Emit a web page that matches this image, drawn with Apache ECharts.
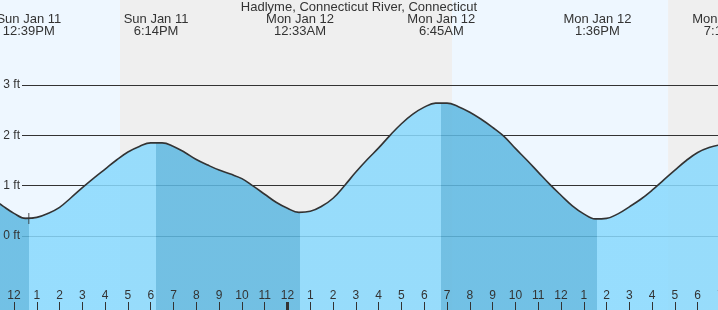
<!DOCTYPE html>
<html><head><meta charset="utf-8">
<script src="https://cdn.jsdelivr.net/npm/echarts@6/dist/echarts.min.js"></script>
<style>html,body{margin:0;padding:0;background:#fff}#c{width:718px;height:310px}</style>
</head><body><div id="c"></div>
<script>
// time axis: hours since Sun Jan 11, 12:00 PM (half-hourly readings)
const hours = [-1, -0.5, 0, 0.5, 1, 1.5, 2, 2.5, 3, 3.5, 4, 4.5, 5, 5.5, 6, 6.5, 7, 7.5, 8, 8.5, 9, 9.5, 10, 10.5, 11, 11.5,
  12, 12.5, 13, 13.5, 14, 14.5, 15, 15.5, 16, 16.5, 17, 17.5, 18, 18.5, 19, 19.5, 20, 20.5, 21, 21.5, 22, 22.5, 23, 23.5,
  24, 24.5, 25, 25.5, 26, 26.5, 27, 27.5, 28, 28.5, 29, 29.5, 30, 30.5, 31, 31.5, 32];
const heights = [0.76, 0.60, 0.45, 0.35, 0.37, 0.45, 0.57, 0.76, 0.96, 1.15, 1.33, 1.51, 1.67, 1.78, 1.85, 1.85, 1.78, 1.66, 1.52, 1.41, 1.31, 1.23, 1.14, 0.99, 0.83, 0.67,
  0.55, 0.47, 0.49, 0.59, 0.75, 1.00, 1.27, 1.52, 1.75, 2.00, 2.23, 2.42, 2.56, 2.64, 2.64, 2.57, 2.46, 2.32, 2.16, 1.98, 1.74, 1.51, 1.27, 1.03,
  0.81, 0.60, 0.44, 0.34, 0.35, 0.44, 0.58, 0.73, 0.91, 1.11, 1.31, 1.50, 1.66, 1.76, 1.81, 1.82, 1.78];

const eventHours = [0.65, 6.233, 12.55, 18.75, 25.6, 31.25];
const eventDates = ['Sun Jan 11', 'Sun Jan 11', 'Mon Jan 12', 'Mon Jan 12', 'Mon Jan 12', 'Mon Jan 12'];
const eventTimes = ['12:39PM', '6:14PM', '12:33AM', '6:45AM', '1:36PM', '7:15PM'];
const eventKinds = ['low', 'high', 'low', 'high', 'low', 'high'];

const dayBands   = [[-1, 4.65], [19.22, 28.70]];
const nightBands = [[4.65, 19.22], [28.70, 32]];
const midnightHours = [12];
const ftTicks = [0, 1, 2, 3];
const nowHour = 0.65, nowHeight = 0.35;
const title = 'Hadlyme, Connecticut River, Connecticut';

const FONT = 'Liberation Sans';
const TXT = '#333';
const DAY = '#eef7ff', NIGHT = '#efefef';
const RISE = '#89d9fd', FALL = '#5eb8e1';

const pieces = [{ lt: eventHours[0], color: eventKinds[0] === 'low' ? FALL : RISE }];
for (let i = 0; i < eventHours.length; i++) {
  const p = { gte: eventHours[i], color: eventKinds[i] === 'high' ? FALL : RISE };
  if (i + 1 < eventHours.length) p.lt = eventHours[i + 1];
  pieces.push(p);
}

const bandData = [];
dayBands.forEach(b => bandData.push([{ xAxis: b[0], itemStyle: { color: DAY } }, { xAxis: b[1] }]));
nightBands.forEach(b => bandData.push([{ xAxis: b[0], itemStyle: { color: NIGHT } }, { xAxis: b[1] }]));

const tideData = hours.map((h, i) => [h, heights[i]]);

const xMin = -1, xMax = 32;
const pxPerHour = 22.79, x0 = 14; // pixel of hour 0
const ftTop = 85, ftZero = 236, H = 310;
const pxPerFt = (ftZero - ftTop) / 3;
const SMOOTH = 0.4;

const chart = echarts.init(document.getElementById('c'), null, { renderer: 'canvas' });
chart.setOption({
  animation: false,
  backgroundColor: '#fff',
  title: {
    text: title, left: 'center', top: 1, padding: 0, z: 20,
    textStyle: { fontFamily: FONT, fontSize: 13, fontWeight: 'normal', color: TXT, lineHeight: 13 }
  },
  grid: [
    { left: x0 + xMin * pxPerHour, right: 718 - (x0 + xMax * pxPerHour), top: 0, bottom: 0, containLabel: false, outerBoundsMode: 'none' },
    { left: 22, right: 0, top: ftTop, bottom: H - ftZero, containLabel: false, outerBoundsMode: 'none' }
  ],
  visualMap: { type: 'piecewise', show: false, dimension: 0, seriesIndex: 1, pieces: pieces },
  xAxis: [
    { gridIndex: 0, type: 'value', min: xMin, max: xMax, interval: 1, position: 'bottom', z: 10,
      axisLine: { show: false, onZero: false }, splitLine: { show: false },
      axisTick: { show: true, inside: true, length: 8, lineStyle: { color: TXT, width: 1 } },
      axisLabel: { inside: true, margin: 8, fontFamily: FONT, fontSize: 12, color: TXT,
        formatter: v => String(((12 + Math.round(v)) % 12) || 12) } },
    { gridIndex: 0, type: 'value', min: xMin, max: xMax, position: 'top', z: 10,
      axisLine: { show: false, onZero: false }, splitLine: { show: false }, axisTick: { show: false },
      axisLabel: { inside: true, margin: 13, customValues: eventHours, fontFamily: FONT, fontSize: 13, lineHeight: 12, color: TXT,
        formatter: v => {
          let k = 0; eventHours.forEach((e, i) => { if (Math.abs(e - v) < Math.abs(eventHours[k] - v)) k = i; });
          return eventDates[k] + '\n' + eventTimes[k];
        } } },
    { gridIndex: 0, type: 'value', min: xMin, max: xMax, position: 'bottom', z: 10,
      axisLine: { show: false, onZero: false }, splitLine: { show: false }, axisLabel: { show: false },
      axisTick: { show: true, inside: true, length: 8, customValues: midnightHours, lineStyle: { color: TXT, width: 3 } } },
    { gridIndex: 1, type: 'value', min: 0, max: 1, show: false, axisLine: { onZero: false } }
  ],
  yAxis: [
    { gridIndex: 0, type: 'value', min: -(H - ftZero) / pxPerFt, max: ftZero / pxPerFt, show: false, axisLine: { onZero: false } },
    { gridIndex: 1, type: 'value', min: 0, max: 3, interval: 1, z: 1,
      axisLine: { show: false, onZero: false }, axisTick: { show: false }, axisLabel: { show: false },
      splitLine: { show: true, lineStyle: { color: '#333', width: 1 } } },
    { gridIndex: 1, type: 'value', min: 0, max: 3, interval: 1, position: 'left', z: 10,
      axisLine: { show: false, onZero: false }, axisTick: { show: false }, splitLine: { show: false },
      axisLabel: { margin: 2, fontFamily: FONT, fontSize: 12, color: TXT, formatter: v => ftTicks.indexOf(v) >= 0 ? v + ' ft' : '' } }
  ],
  series: [
    { type: 'line', xAxisIndex: 0, yAxisIndex: 0, data: [], z: 0, silent: true,
      markArea: { silent: true, z: 0, data: bandData } },
    { type: 'line', xAxisIndex: 0, yAxisIndex: 0, data: tideData, smooth: SMOOTH, symbol: 'none', z: 2,
      lineStyle: { width: 0, opacity: 0 }, areaStyle: { origin: 'start', opacity: 0.86 } },
    { type: 'line', xAxisIndex: 0, yAxisIndex: 0, data: tideData, smooth: SMOOTH, symbol: 'none', z: 3,
      lineStyle: { color: '#333', width: 1.6 }, itemStyle: { color: '#333' } },
    { type: 'scatter', xAxisIndex: 0, yAxisIndex: 0, data: [[nowHour, nowHeight]], z: 4,
      symbol: 'path://M-0.6,-5 h1.2 v4.4 h4.4 v1.2 h-4.4 v4.4 h-1.2 v-4.4 h-4.4 v-1.2 h4.4 z', symbolSize: [9, 11],
      itemStyle: { color: '#333' } }
  ]
});
</script></body></html>
